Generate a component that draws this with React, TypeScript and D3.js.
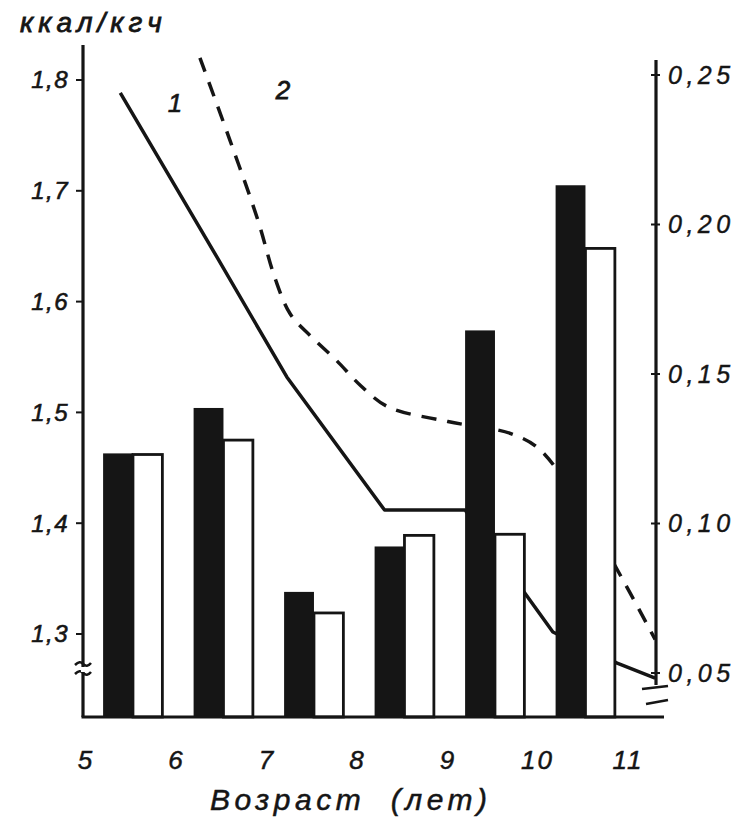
import React from "react";
import * as d3 from "d3";

// ---- data ----
const ages = [5, 6, 7, 8, 9, 10];
const xTicks = [5, 6, 7, 8, 9, 10, 11];
const leftTicks = [1.3, 1.4, 1.5, 1.6, 1.7, 1.8];
const rightTicks = [0.05, 0.1, 0.15, 0.2, 0.25];
// filled (black) and open (white) bars, left axis (ккал/кгч)
const blackBars = [1.463, 1.504, 1.338, 1.379, 1.574, 1.705];
const whiteBars = [1.462, 1.475, 1.319, 1.389, 1.39, 1.648];
// curve 1 (solid), right axis
const line1Age = [5.39, 6.46, 7.23, 8.31, 9.2, 10.17, 10.88, 11.3];
const line1Val = [0.244, 0.189, 0.149, 0.1045, 0.1045, 0.0637, 0.0533, 0.0483];
// curve 2 (dashed), right axis
const line2Age = [6.27, 6.6, 6.91, 7.1, 7.27, 7.5, 7.78, 8.05, 8.35, 9.01, 9.73, 10.08, 11.3];
const line2Val = [0.2557, 0.2283, 0.2015, 0.182, 0.17, 0.1625, 0.1545, 0.146, 0.139, 0.1341, 0.1298, 0.1231, 0.0612];

const INK = "#151515";
const FONT = "'Liberation Sans', Arial, sans-serif";

export default function App() {
  const W = 750, H = 818;
  const x = d3.scaleLinear().domain([5, 11]).range([85, 628]);
  const yL = d3.scaleLinear().domain([1.3, 1.8]).range([634, 80]);
  const yR = d3.scaleLinear().domain([0.05, 0.25]).range([673, 75]);
  const base = 717;
  const axL = 83, axR = 656;

  const l1 = line1Age.map((a, i) => [a, line1Val[i]] as [number, number]);
  const l2 = line2Age.map((a, i) => [a, line2Val[i]] as [number, number]);
  const lineGen = d3.line<[number, number]>().x(d => x(d[0])).y(d => yR(d[1]));
  const lineGen2 = d3.line<[number, number]>().x(d => x(d[0])).y(d => yR(d[1])).curve(d3.curveCatmullRom.alpha(0.5));

  const fmt = (v: number, n: number) => v.toFixed(n).replace(".", ",");

  return (
    <svg width={W} height={H} style={{ position: "absolute", left: 0, top: 0, background: "#fff" }}>
      <rect x={0} y={0} width={W} height={H} fill="#fff" />
      {/* curves (drawn beneath the bars) */}
      <path d={lineGen(l1) || ""} fill="none" stroke={INK} strokeWidth={3.5} strokeLinejoin="round" />
      <path d={lineGen2(l2) || ""} fill="none" stroke={INK} strokeWidth={3.5} strokeDasharray="15 11" />

      {/* bars */}
      {ages.map((a, i) => (
        <g key={a}>
          <rect x={x(a + 0.2)} y={yL(blackBars[i])} width={x(a + 0.53) - x(a + 0.2)} height={base - yL(blackBars[i])} fill={INK} />
          <rect x={x(a + 0.53)} y={yL(whiteBars[i])} width={x(a + 0.855) - x(a + 0.53)} height={base - yL(whiteBars[i])} fill="#fff" stroke={INK} strokeWidth={2.8} />
        </g>
      ))}

      {/* axes */}
      <line x1={axL} y1={45} x2={axL} y2={base} stroke={INK} strokeWidth={3.2} />
      <line x1={axL - 1.5} y1={base} x2={axR + 8} y2={base} stroke={INK} strokeWidth={3.2} />
      <line x1={axR} y1={60} x2={axR} y2={685} stroke={INK} strokeWidth={3.2} />
      {/* axis breaks */}
      <path d={`M${axL - 8},${665} q5,-5 8,-1 q4,4 8,-1`} fill="none" stroke={INK} strokeWidth={2.5} />
      <path d={`M${axL - 8},${674} q5,-5 8,-1 q4,4 8,-1`} fill="none" stroke={INK} strokeWidth={2.5} />
      <rect x={axL - 2} y={667} width={4} height={5} fill="#fff" />
      <path d={`M${axR - 14},${689} L${axR + 12},${686}`} fill="none" stroke={INK} strokeWidth={2.5} />
      <path d={`M${axR - 10},${704} L${axR + 12},${700}`} fill="none" stroke={INK} strokeWidth={2.5} />

      {/* left ticks */}
      {leftTicks.map(t => (
        <g key={t}>
          <line x1={axL - 7} x2={axL} y1={yL(t)} y2={yL(t)} stroke={INK} strokeWidth={2} />
          <text x={69} y={yL(t)} dy="0.35em" textAnchor="end" fontFamily={FONT} fontStyle="italic" fontSize={24}
            fill={INK} stroke={INK} strokeWidth={0.6} letterSpacing={1.5}>{fmt(t, 1)}</text>
        </g>
      ))}
      {/* right ticks */}
      {rightTicks.map(t => (
        <g key={t}>
          <line x1={axR - 5} x2={axR + 4} y1={yR(t)} y2={yR(t)} stroke={INK} strokeWidth={2} />
          <text x={668} y={yR(t)} dy="0.35em" textAnchor="start" fontFamily={FONT} fontStyle="italic" fontSize={25}
            fill={INK} stroke={INK} strokeWidth={0.4} letterSpacing={4.5}>{fmt(t, 2)}</text>
        </g>
      ))}
      {/* x ticks */}
      {xTicks.map(t => (
        <text key={t} x={x(t)} y={760} dy="0.35em" textAnchor="middle" fontFamily={FONT} fontStyle="italic" fontSize={26}
          fill={INK} stroke={INK} strokeWidth={0.5} letterSpacing={t > 9 ? 2 : 0}>{t}</text>
      ))}

      {/* titles */}
      <text x={20} y={32} fontFamily={FONT} fontStyle="italic" fontSize={28} fill={INK} stroke={INK} strokeWidth={0.8} letterSpacing={5}>ккал/кгч</text>
      <text x={210} y={810} fontFamily={FONT} fontStyle="italic" fontSize={30} fill={INK} stroke={INK} strokeWidth={0.5} letterSpacing={4.5} style={{ whiteSpace: "pre" }}>Возраст  (лет)</text>

      {/* curve labels */}
      <text x={175} y={103} dy="0.35em" textAnchor="middle" fontFamily={FONT} fontStyle="italic" fontSize={26} fill={INK} stroke={INK} strokeWidth={0.6}>1</text>
      <text x={283} y={90} dy="0.35em" textAnchor="middle" fontFamily={FONT} fontStyle="italic" fontSize={26} fill={INK} stroke={INK} strokeWidth={0.8}>2</text>
    </svg>
  );
}
